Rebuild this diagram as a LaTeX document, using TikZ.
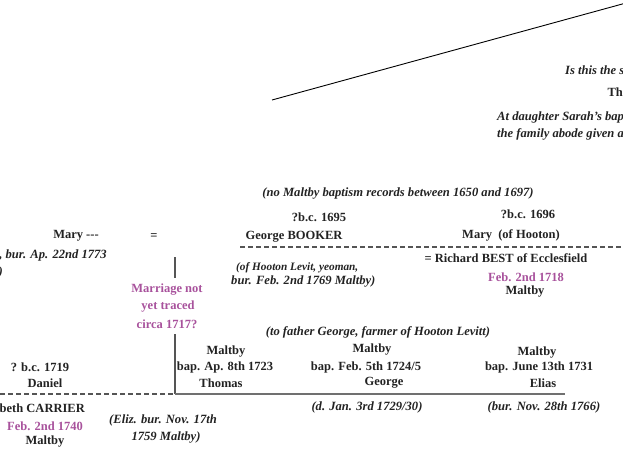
\documentclass[tikz,border=0pt]{standalone}
\usepackage{fontspec}
\setmainfont{Liberation Serif}
\definecolor{ink}{HTML}{222222}
\definecolor{mag}{HTML}{A8529C}
\definecolor{linegray}{HTML}{707070}
\definecolor{dashgray}{HTML}{555555}
\tikzset{
  nm/.style={font=\bfseries\fontsize{12.5}{14}\selectfont, text=ink, inner sep=0pt},
  it/.style={font=\bfseries\itshape\fontsize{12.6}{14}\selectfont, text=ink, inner sep=0pt},
  itsm/.style={font=\bfseries\itshape\fontsize{11.3}{13}\selectfont, text=ink, inner sep=0pt},
  mg/.style={font=\bfseries\fontsize{12.5}{14}\selectfont, text=mag, inner sep=0pt},
  dashline/.style={draw=dashgray, dash pattern=on 4.5pt off 3.5pt, line width=1.1pt},
  solidline/.style={draw=linegray, line width=1.8pt},
  vline/.style={draw=dashgray, line width=1.2pt},
  diag/.style={draw=black, line width=0.9pt},
}
\begin{document}
\begin{tikzpicture}[x=1pt,y=-1pt]
\useasboundingbox (0,0) rectangle (623,449);
% top right note
\coordinate (d1) at (272,100);
\coordinate (d2) at (626,3);
\draw[diag] (d1) -- (d2);
\node[it, anchor=west] (q1) at (565,70) {Is this the s};
\node[nm, anchor=east] (q2) at (623,92) {Th};
\node[it, anchor=west] (q3) at (497,117) {At daughter Sarah’s bap};
\node[it, anchor=west] (q4) at (497,134) {the family abode given a};
% generation of George Booker
\node[it] (norec) at (398,193) {(no Maltby baptism records between 1650 and 1697)};
\node[nm] (gbc) at (319,217) {?b.c. 1695};
\node[nm] (gb) at (294,237) {George BOOKER};
\node[itsm, anchor=west] (gbn1) at (236,268) {(of Hooton Levit, yeoman,};
\node[it, anchor=west] (gbn2) at (231,281) {bur. Feb. 2nd 1769 Maltby)};
\node[nm] (mbc) at (528,214) {?b.c. 1696};
\node[nm] (mh) at (511,235) {Mary\ \ (of Hooton)};
\node[nm] (rb) at (506,258) {= Richard BEST of Ecclesfield};
\node[mg] (rbd) at (526,277) {Feb. 2nd 1718};
\node[nm] (rbp) at (525,292) {Maltby};
\coordinate (gbl) at (240,247);
\coordinate (gbr) at (623,247);
\draw[dashline] (gbl) -- (gbr);
% Mary --- and unknown marriage
\node[nm] (maryL) at (76,236) {Mary -{}-{}-};
\node[nm] (eq) at (154,237) {=};
\node[it, anchor=east] (maryn) at (107,255) {, bur. Ap. 22nd 1773};
\node[it, anchor=east] (paren) at (3,272) {)};
\coordinate (v1a) at (175,257);
\coordinate (v1b) at (175,278);
\draw[vline] (v1a) -- (v1b);
\node[mg] (mnt1) at (167,290) {Marriage not};
\node[mg] (mnt2) at (168,307) {yet traced};
\node[mg] (mnt3) at (167,324) {circa 1717?};
\coordinate (v2a) at (175,334);
\coordinate (v2b) at (175,394);
\draw[vline] (v2a) -- (v2b);
\coordinate (dl) at (0,394);
\draw[dashline] (dl) -- (v2b);
\coordinate (sr) at (565,394);
\draw[solidline] (v2b) -- (sr);
% children
\node[it] (tofa) at (378,332) {(to father George, farmer of Hooton Levitt)};
\node[nm] (dbc) at (40,367) {? b.c. 1719};
\node[nm] (dan) at (45,383) {Daniel};
\node[nm, anchor=east] (carr) at (85,408) {beth CARRIER};
\node[mg] (cdate) at (45,426) {Feb. 2nd 1740};
\node[nm] (cplace) at (45,442) {Maltby};
\node[it] (eliz1) at (163,420) {(Eliz. bur. Nov. 17th};
\node[it] (eliz2) at (166,437) {1759 Maltby)};
\node[nm] (tm) at (226,352) {Maltby};
\node[nm] (tb) at (225,367) {bap. Ap. 8th 1723};
\node[nm] (tn) at (221,383) {Thomas};
\node[nm] (gm) at (372,350) {Maltby};
\node[nm] (gbap) at (366,367) {bap. Feb. 5th 1724/5};
\node[nm] (gn) at (384,383) {George};
\node[it] (gnote) at (367,407) {(d. Jan. 3rd 1729/30)};
\node[nm] (em) at (537,353) {Maltby};
\node[nm] (eb) at (539,367) {bap. June 13th 1731};
\node[nm] (en) at (543,383) {Elias};
\node[it] (enote) at (544,407) {(bur. Nov. 28th 1766)};
\end{tikzpicture}
\end{document}
